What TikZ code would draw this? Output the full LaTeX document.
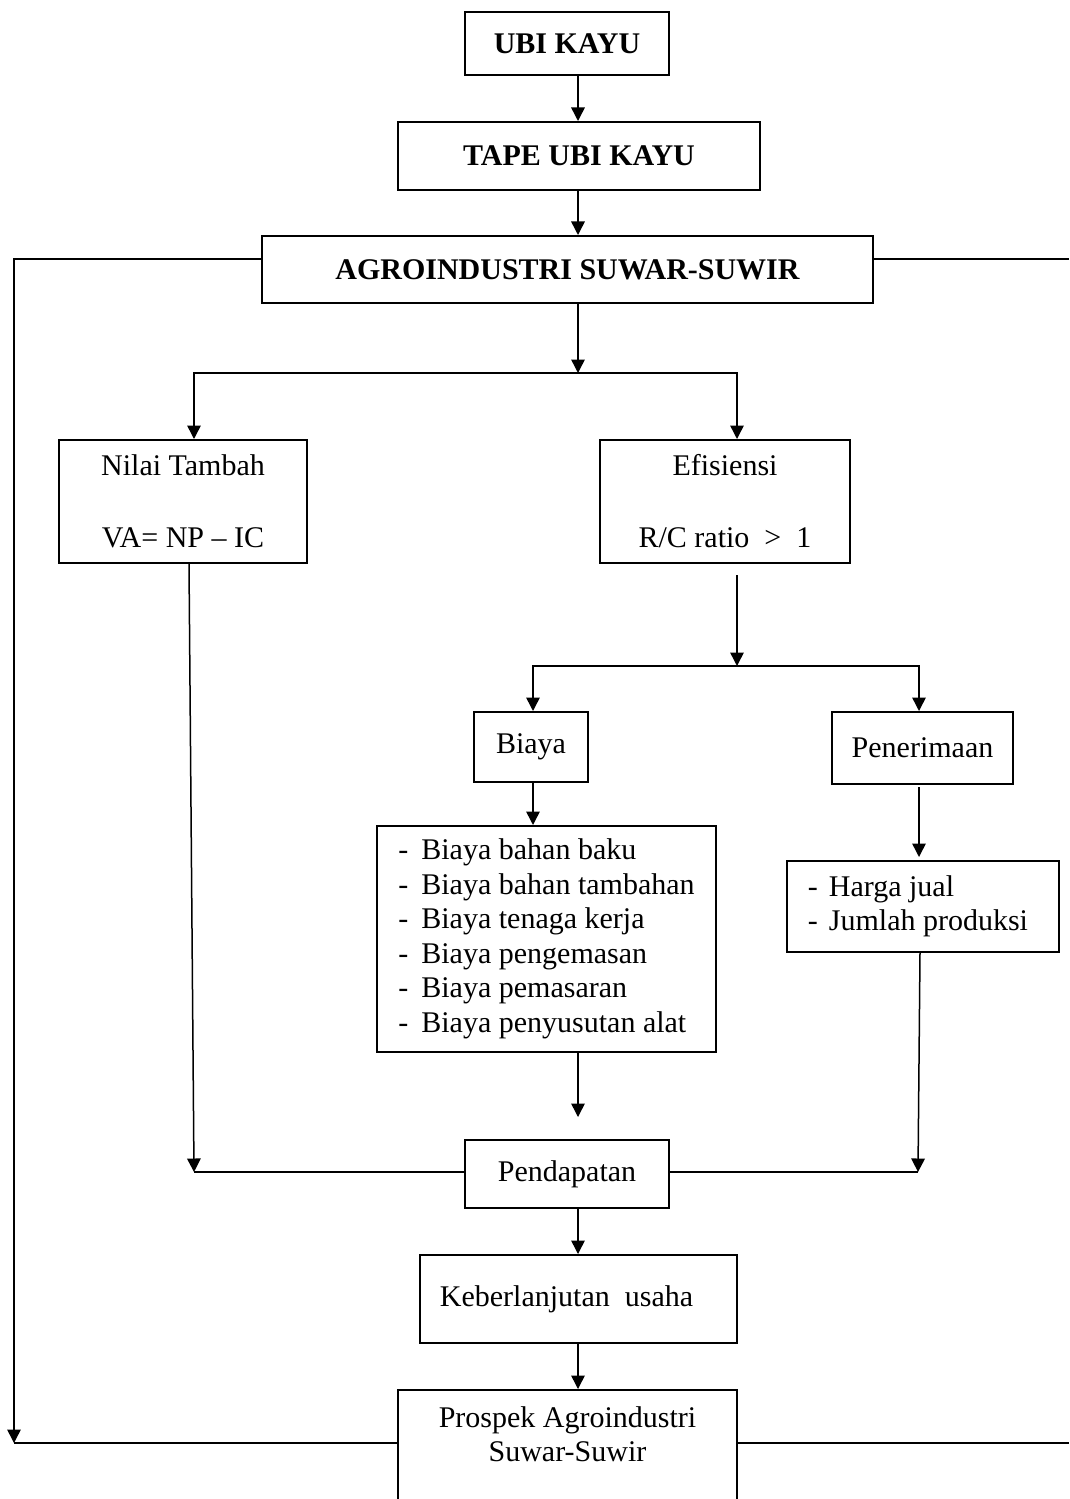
\documentclass[tikz,border=0pt]{standalone}
\usepackage{fontspec}
\setmainfont{Liberation Serif}
\usetikzlibrary{arrows.meta}
\begin{document}
\begin{tikzpicture}[x=0.4pt,y=-0.4pt,
  every node/.style={font=\fontsize{12pt}{13.8pt}\selectfont},
  box/.style={draw,line width=0.8pt,inner sep=0pt,align=center},
  boldbox/.style={box,font=\fontsize{12pt}{13.8pt}\selectfont\bfseries},
  txt/.style={inner sep=0pt,align=center},
  arr/.style={line width=0.6pt,-{Triangle[width=5.4pt,length=5.4pt]}},
  ln/.style={line width=0.6pt}]
\useasboundingbox (0,0) rectangle (1069,1499);
\clip (0,0) rectangle (1069,1499);
% boxes
\node[boldbox,minimum width=81.6pt,minimum height=25.2pt] (ubi) at (567,43.5) {UBI KAYU};
\node[boldbox,minimum width=144.8pt,minimum height=27.2pt] (tape) at (579,156) {TAPE UBI KAYU};
\node[boldbox,minimum width=244.4pt,minimum height=26.8pt] (agro) at (567.5,269.5) {AGROINDUSTRI SUWAR-SUWIR};
\node[box,minimum width=99.2pt,minimum height=49.2pt] (nilai) at (183,501.5) {Nilai Tambah\\[15pt]VA= NP – IC};
\node[box,minimum width=100pt,minimum height=49.2pt] (efis) at (725,501.5) {Efisiensi\\[15pt]R/C ratio\ \ >\ \ 1};
\node[box,minimum width=45.6pt,minimum height=28pt] (biaya) at (531,747) {Biaya};
\node[box,minimum width=72.4pt,minimum height=28.8pt] (pener) at (922.5,748) {Penerimaan};
\node[box,minimum width=135.6pt,minimum height=90.4pt,align=left] (list) at (546.5,939) {%
\makebox[9.2pt][l]{-}Biaya bahan baku\\
\makebox[9.2pt][l]{-}Biaya bahan tambahan\\
\makebox[9.2pt][l]{-}Biaya tenaga kerja\\
\makebox[9.2pt][l]{-}Biaya pengemasan\\
\makebox[9.2pt][l]{-}Biaya pemasaran\\
\makebox[9.2pt][l]{-}Biaya penyusutan alat};
\node[box,minimum width=108.8pt,minimum height=36.4pt,align=left] (harga) at (923,906.5) {%
\makebox[8.4pt][l]{-}Harga jual\\
\makebox[8.4pt][l]{-}Jumlah produksi\kern4pt};
\node[box,minimum width=81.6pt,minimum height=27.2pt] (pend) at (567,1174) {Pendapatan};
\node[box,minimum width=126.8pt,minimum height=35.2pt] (keber) at (578.5,1299) {Keberlanjutan\ \ usaha\kern9.6pt};
\node[box,minimum width=135.6pt,minimum height=48pt] (prospek) at (567.5,1450) {};
\node[txt] (prospekt) at (567.5,1434) {Prospek Agroindustri\\Suwar-Suwir};
% helper coordinates
\coordinate (sx) at (578,0);
\coordinate (xl) at (194,0);
\coordinate (xe) at (737,0);
\coordinate (xb) at (533,0);
\coordinate (xp) at (919,0);
\coordinate (xn) at (189,0);
\coordinate (xh) at (920,0);
\coordinate (j1) at (578,373);
\coordinate (e0) at (737,575);
\coordinate (j2) at (737,666);
\coordinate (p0) at (919,787);
\coordinate (p1) at (919,857);
\coordinate (l1) at (578,1117);
\coordinate (jl) at (194,1172);
\coordinate (jr) at (918,1172);
\coordinate (ja) at (14,259);
\coordinate (jb) at (14,1443);
\coordinate (jc) at (1069,259);
\coordinate (jd) at (1069,1443);
% connectors
\draw[arr] (ubi.south -| sx) -- (tape.north -| sx);
\draw[arr] (tape.south -| sx) -- (agro.north -| sx);
\draw[arr] (agro.south -| j1) -- (j1);
\draw[arr] (j1) -| (nilai.north -| xl);
\draw[arr] (j1) -| (efis.north -| xe);
\draw[arr] (e0) -- (j2);
\draw[arr] (j2) -| (biaya.north -| xb);
\draw[arr] (j2) -| (pener.north -| xp);
\draw[arr] (biaya.south -| xb) -- (list.north -| xb);
\draw[arr] (p0) -- (p1);
\draw[arr] (list.south -| sx) -- (l1);
\draw[arr] (nilai.south -| xn) -- (jl);
\draw[ln] (jl) -- (jl -| pend.west);
\draw[arr] (harga.south -| xh) -- (jr);
\draw[ln] (jr) -- (jr -| pend.east);
\draw[arr] (pend.south -| sx) -- (keber.north -| sx);
\draw[arr] (keber.south -| sx) -- (prospek.north -| sx);
\draw[arr] (ja -| agro.west) -- (ja) -- (jb);
\draw[ln] (jb) -- (jb -| prospek.west);
\draw[ln] (jc -| agro.east) -- (jc);
\draw[ln] (jd -| prospek.east) -- (jd);
\end{tikzpicture}
\end{document}
